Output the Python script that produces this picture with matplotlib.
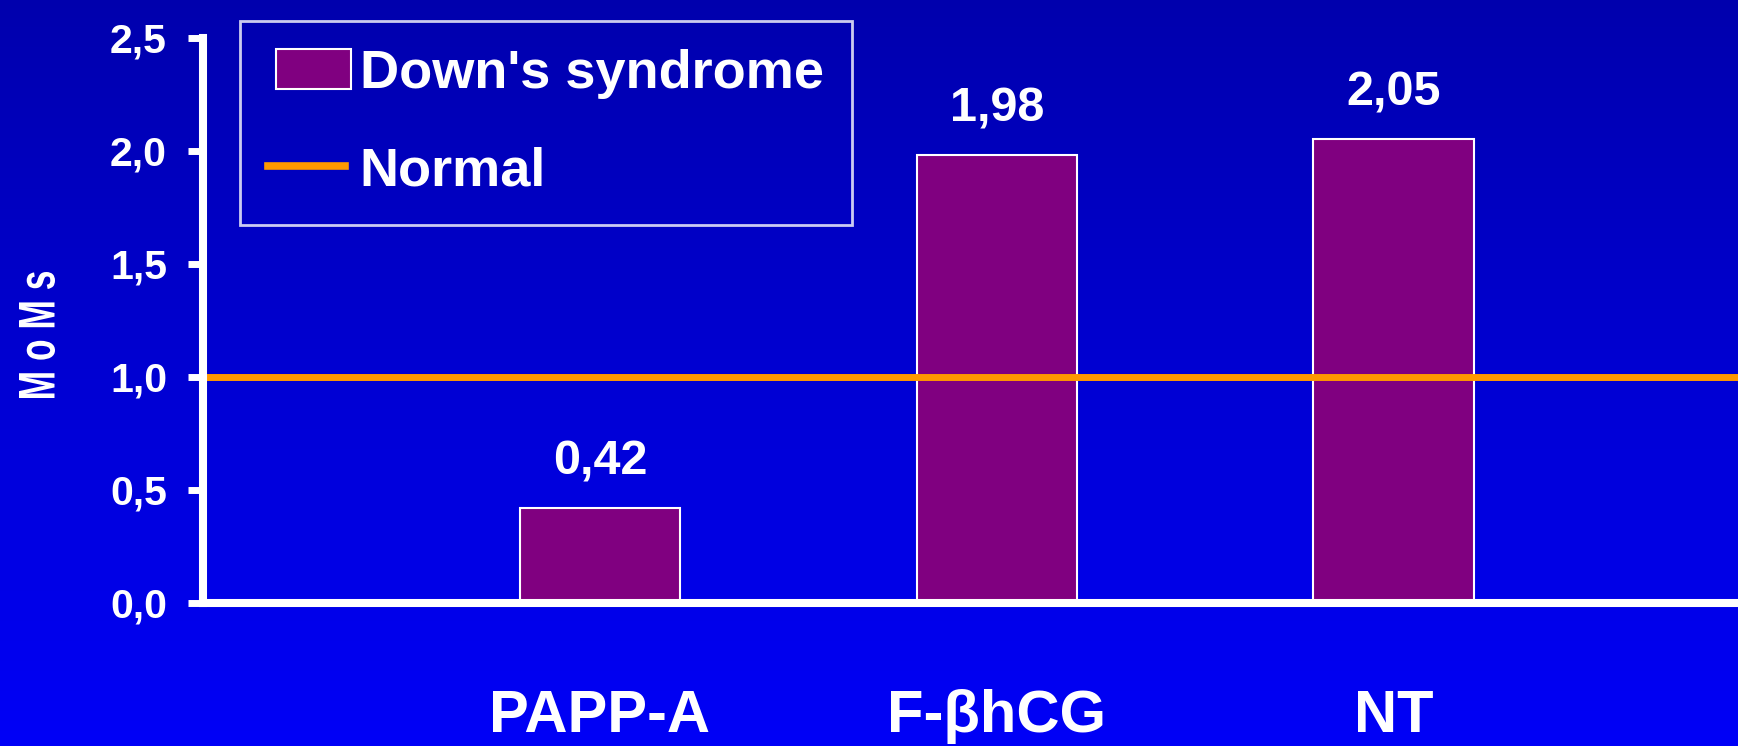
import matplotlib
matplotlib.use("Agg")
import matplotlib.pyplot as plt
import matplotlib.transforms as mtransforms
import numpy as np
from matplotlib.patches import Patch, PathPatch, Rectangle
from matplotlib.lines import Line2D
from matplotlib.legend_handler import HandlerPatch
from matplotlib.textpath import TextPath
from matplotlib.font_manager import FontProperties

markers = ["PAPP-A", "F-βhCG", "NT"]
down_moms = [0.42, 1.98, 2.05]
normal_mom = 1.0
y_ticks = [0.0, 0.5, 1.0, 1.5, 2.0, 2.5]

plt.rcParams['font.family'] = ['Liberation Sans', 'DejaVu Sans']
plt.rcParams['font.weight'] = 'bold'

W, H = 1738, 746
fig = plt.figure(figsize=(W / 100, H / 100), dpi=100)

# vertical blue gradient behind everything
bg = fig.add_axes([0, 0, 1, 1], zorder=-1)
grad = np.linspace(0.68, 0.97, 256).reshape(-1, 1)
rgb = np.zeros((256, 1, 3))
rgb[:, :, 2] = grad
bg.imshow(rgb, aspect='auto', extent=[0, 1, 0, 1], origin='upper')
bg.axis('off')

ax = fig.add_axes([203 / W, 143.5 / H, 1 - 203 / W, 565 / H])
ax.patch.set_alpha(0)

x = np.arange(len(markers))
ax.bar(x, down_moms, width=0.405, color='#800080', edgecolor='white',
       linewidth=1.5, zorder=2)
ax.axhline(normal_mom, color='#FF9900', linewidth=5, zorder=3)

for xi, v in zip(x, down_moms):
    ax.annotate(f"{v:.2f}".replace('.', ','), (xi, v), xytext=(0, 24),
                textcoords='offset points', ha='center', va='baseline',
                color='white', fontsize=35, fontweight='bold')

ax.set_xlim(-1.0, 2.867)
ax.set_ylim(0, 2.5)
ax.set_yticks(y_ticks)
ax.set_yticklabels([f"{t:.1f}".replace('.', ',') for t in y_ticks])
ax.set_xticks(x)
ax.set_xticklabels(markers)

for side in ['top', 'right']:
    ax.spines[side].set_visible(False)
for side in ['left', 'bottom']:
    ax.spines[side].set_color('white')
    ax.spines[side].set_linewidth(5.8)
    ax.spines[side].set_zorder(4)

ax.tick_params(axis='y', colors='white', length=11, width=5, pad=15,
               labelsize=29.5, direction='out')
ax.tick_params(axis='x', colors='white', length=0, pad=62, labelsize=43)

# condensed, rotated y label built from a text path (in pixels)
tp = TextPath((0, 0), "M o M s", size=1,
              prop=FontProperties(family='Liberation Sans', weight='bold'))
ext = tp.get_extents()
along, cap = 126.0, 36.0
tr = (mtransforms.Affine2D()
      .translate(-(ext.x0 + ext.x1) / 2, -(ext.y0 + ext.y1) / 2)
      .scale(along / ext.width, cap / ext.height)
      .rotate_deg(90)
      .translate(37, H - 335))
fig.add_artist(PathPatch(tp, transform=tr, facecolor='white', edgecolor='none'))


def shifted_box(legend, orig_handle, xdescent, ydescent, width, height, fontsize):
    # legend swatch nudged right so it sits close to its label
    return Rectangle((-xdescent + 0.1 * width, -ydescent), 0.98 * width, height)


handles = [Patch(facecolor='#800080', edgecolor='white', linewidth=1.5),
           Line2D([], [], color='#FF9900', linewidth=5.5)]
leg = ax.legend(handles, ["Down's syndrome", "Normal"], loc='upper left',
                bbox_to_anchor=(240 / W, 1 - 21 / H), bbox_transform=fig.transFigure,
                borderaxespad=0, fontsize=39, frameon=True, fancybox=False,
                handlelength=1.42, handleheight=0.75, handletextpad=0.27,
                labelspacing=0.88, borderpad=0.52,
                handler_map={Patch: HandlerPatch(patch_func=shifted_box)})
leg.get_frame().set_facecolor('none')
leg.get_frame().set_edgecolor('white')
leg.get_frame().set_linewidth(2)
for t in leg.get_texts():
    t.set_color('white')

fig.savefig("out.png", dpi=100)
